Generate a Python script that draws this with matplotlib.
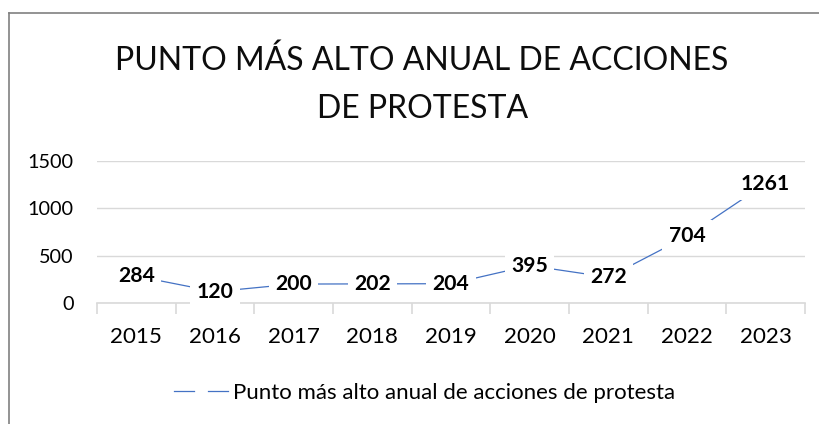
import numpy as np
import matplotlib
matplotlib.use("Agg")
import matplotlib.pyplot as plt
from matplotlib.lines import Line2D

years = ["2015", "2016", "2017", "2018", "2019", "2020", "2021", "2022", "2023"]
values = [284, 120, 200, 202, 204, 395, 272, 704, 1261]
yticks = [0, 500, 1000, 1500]
series_name = "Punto más alto anual de acciones de protesta"
title_lines = ["PUNTO MÁS ALTO ANUAL DE ACCIONES", "DE PROTESTA"]

plt.rcParams['font.family'] = ['Lato', 'DejaVu Sans']

W, H = 820, 424
fig = plt.figure(figsize=(W / 100, H / 100), dpi=100)
renderer = fig.canvas.get_renderer()


def fitted_size(artist, target_px):
    # font size that makes the artist's text target_px wide
    w = artist.get_window_extent(renderer).width
    return artist.get_fontsize() * target_px / w


# chart frame (left and top edges, the rest is cropped)
fig.add_artist(Line2D([9 / W, 9 / W], [0, 1 - 13 / H], color='#808080', lw=1.2))
fig.add_artist(Line2D([9 / W, 1], [1 - 13 / H, 1 - 13 / H], color='#808080', lw=1.2))

ax = fig.add_axes([97 / W, 1 - 303 / H, (805 - 97) / W, (303 - 161) / H])

x = np.arange(len(years))
line_color = '#4472C4'
ax.plot(x, values, color=line_color, lw=0.9, zorder=2)

labels = []
for xi, v in zip(x, values):
    t = ax.text(xi, v, str(v), ha='center', va='center', fontsize=15, fontweight='bold',
                color='black', zorder=3,
                bbox=dict(boxstyle='square,pad=0.3', fc='white', ec='none'))
    labels.append(t)

ax.set_xlim(-0.5, len(years) - 0.5)
ax.set_ylim(0, 1500)
ax.set_yticks(yticks)
ax.set_yticklabels([str(t) for t in yticks], fontsize=14)
ax.tick_params(axis='y', length=0, pad=17)

ax.set_xticks(x)
ax.set_xticklabels(years, fontsize=16)
ax.set_xticks(np.arange(-0.5, len(years)), minor=True)
ax.tick_params(axis='x', which='major', length=0, pad=17)
ax.tick_params(axis='x', which='minor', length=8, color='#D9D9D9', width=1.2)

ax.grid(axis='y', color='#D9D9D9', lw=1.0)
ax.set_axisbelow(True)
for sp in ['top', 'right', 'left']:
    ax.spines[sp].set_visible(False)
ax.spines['bottom'].set_color('#D9D9D9')
ax.spines['bottom'].set_linewidth(1.2)

t1 = fig.text(421.5 / W, 1 - 70 / H, title_lines[0], ha='center', va='baseline', fontsize=25,
              color='#0d0d0d')
t2 = fig.text(422.5 / W, 1 - 118 / H, title_lines[1], ha='center', va='baseline', fontsize=25,
              color='#0d0d0d')

handles = [Line2D([], [], color=line_color, lw=0.9), Line2D([], [], color=line_color, lw=0.9)]
leg = fig.legend(handles, ['', series_name], loc='center', bbox_to_anchor=(425 / W, 1 - 393 / H),
                 ncol=2, frameon=False, fontsize=16, handlelength=0.9, handletextpad=0.25,
                 columnspacing=0.35)

# size the texts to the widths measured on the reference
fig.canvas.draw()
s = fitted_size(labels[0], 37)
for t in labels:
    t.set_fontsize(s)
ys = fitted_size(ax.get_yticklabels()[3], 46.5)
xs = fitted_size(ax.get_xticklabels()[0], 52)
ax.tick_params(axis='y', labelsize=ys)
ax.tick_params(axis='x', labelsize=xs)
ts = fitted_size(t1, 613)
t1.set_fontsize(ts)
t2.set_fontsize(ts)
ls = fitted_size(leg.get_texts()[1], 442)
for t in leg.get_texts():
    t.set_fontsize(ls)

fig.savefig('out.png', dpi=100)
